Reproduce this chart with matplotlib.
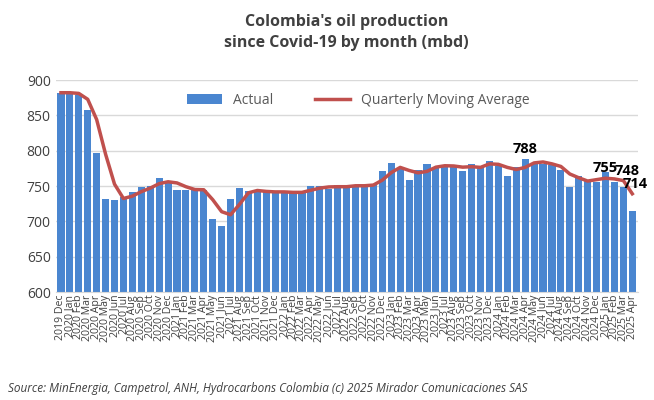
import matplotlib
matplotlib.use("Agg")
import matplotlib.pyplot as plt
import numpy as np
import pandas as pd

plt.rcParams["font.family"] = "Open Sans"

mon = ["Jan","Feb","Mar","Apr","May","Jun","Jul","Aug","Sep","Oct","Nov","Dec"]
labels = ["2019 Dec"] + [f"{y} {m}" for y in range(2020, 2025) for m in mon] + [f"2025 {m}" for m in mon[:4]]
actual = [882,
          882,879,857,796,732,730,735,742,749,750,761,757,
          745,745,745,744,703,694,731,747,743,741,743,741,
          741,741,741,750,750,746,751,750,750,751,753,771,
          783,775,758,773,781,776,779,780,771,781,777,786,
          779,764,777,788,783,781,780,772,749,764,758,755,
          770,755,748,714]
moving_avg = pd.Series(actual).rolling(3, min_periods=1).mean().values
annot = {"2024 Apr": 788, "2025 Jan": 755, "2025 Mar": 748, "2025 Apr": 714}

fig, ax = plt.subplots(figsize=(6.54, 4.0), dpi=100)
fig.subplots_adjust(left=0.085, right=0.975, top=0.8, bottom=0.27)
x = np.arange(len(labels))
b = ax.bar(x, actual, width=0.8, color="#4a86d0", label="Actual", zorder=2)
l, = ax.plot(x, moving_avg, color="#c0504d", lw=2.5, label="Quarterly Moving Average", zorder=3)
offs = {"2024 Apr": 0, "2025 Jan": 0.0, "2025 Mar": 0.4, "2025 Apr": 0.3}
for k, v in annot.items():
    i = labels.index(k)
    ax.text(i + offs[k], max(v, moving_avg[i]) + 4, str(v), ha="center", va="bottom",
            fontsize=10.5, fontweight="bold", zorder=4)
ax.set_ylim(600, 900)
ax.set_yticks(range(600, 901, 50))
ax.set_xlim(-0.6, len(labels) - 0.4)
ax.set_xticks(x)
ax.set_xticklabels(labels, rotation=90, fontsize=7.6, color="#404040")
ax.tick_params(axis="y", labelsize=10, colors="#404040", length=0)
ax.tick_params(axis="x", length=0, pad=2)
ax.grid(axis="y", color="#d9d9d9", lw=1, zorder=0)
for s in ["top", "right", "left"]:
    ax.spines[s].set_visible(False)
ax.spines["bottom"].set_color("#d9d9d9")
ax.legend([b, l], ["Actual", "Quarterly Moving Average"], loc="upper center",
          bbox_to_anchor=(0.52, 1.0), ncol=2, frameon=False,
          fontsize=10, labelcolor="#595959", handlelength=2.5, columnspacing=3)
fig.text(0.53, 0.965, "Colombia's oil production\nsince Covid-19 by month (mbd)", ha="center", va="top",
         fontsize=11.5, fontweight="bold", color="#404040", linespacing=1.4)
fig.text(0.012, 0.02, "Source: MinEnergia, Campetrol, ANH, Hydrocarbons Colombia (c) 2025 Mirador Comunicaciones SAS",
         fontsize=8.5, style="italic", color="#404040")
fig.savefig("out.png", dpi=100)
